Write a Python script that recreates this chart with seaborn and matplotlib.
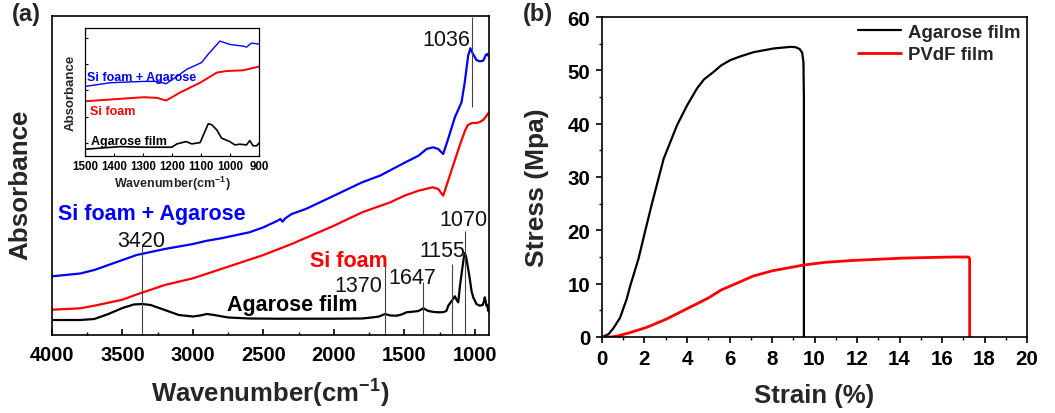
import numpy as np
import pandas as pd
import matplotlib
matplotlib.use("Agg")
import matplotlib.pyplot as plt
from matplotlib.ticker import MultipleLocator
import seaborn as sns

# ---------------- Panel (a): FTIR spectra (arbitrary absorbance units) ----------------
wn_blue = [4000, 3800, 3700, 3600, 3500, 3400, 3200, 3000, 2900, 2800, 2600, 2500, 2400, 2380,
           2365, 2345, 2300, 2200, 2000, 1900, 1800, 1674, 1485, 1400, 1343, 1296, 1260, 1225,
           1190, 1142, 1095, 1072, 1048, 1032, 1013, 989, 965, 941, 922, 913, 901]
abs_blue = [58.7, 61.5, 65, 70, 75, 80, 86, 91, 94.3, 96.7, 102.7, 107.7, 114.3, 116,
            113.3, 116.7, 121, 126, 139.3, 146, 152.7, 159.3, 173.3, 179.3, 186, 187.7, 186, 181,
            196, 217.7, 232.7, 252.7, 279.3, 286.7, 281, 275, 273.7, 274.3, 280, 281, 278.7]

wn_red = [4000, 3800, 3700, 3500, 3400, 3200, 3000, 2800, 2500, 2300, 2000, 1800, 1600, 1500,
          1400, 1300, 1260, 1225, 1190, 1155, 1100, 1070, 1050, 1020, 989, 960, 940, 920, 901]
abs_red = [25.3, 26.7, 29.3, 35.3, 40.5, 50, 56.7, 66, 80, 91, 109.3, 122.7, 132.7, 139.3,
           144.3, 147.7, 146, 139.3, 154.3, 169.3, 192.7, 204.3, 210, 212, 212, 213.3, 215.3, 218.7, 222.7]

wn_black = [4000, 3800, 3700, 3600, 3500, 3420, 3360, 3300, 3200, 3100, 3000, 2950, 2900, 2850,
            2750, 2600, 2400, 2200, 2000, 1800, 1721, 1680, 1638, 1600, 1556, 1520, 1485, 1430,
            1400, 1366, 1330, 1290, 1248, 1220, 1201, 1189, 1160, 1142, 1125, 1118, 1106, 1087,
            1078, 1071, 1062, 1050, 1036, 1024, 1012, 989, 965, 945, 935, 930, 924, 918, 912, 906, 900]
abs_black = [15, 15, 16, 21, 27, 30.5, 31, 30, 25, 20, 18.5, 19.5, 21, 20,
             17.5, 16.5, 16.3, 16.3, 16.3, 16.5, 17.7, 18.5, 21, 19.5, 19.3, 20.5, 22.7, 23.5,
             24, 26.7, 24, 23, 22.7, 23, 24.3, 29.3, 35, 38.7, 34, 32.7, 49, 69,
             78, 82, 78, 68, 56, 44, 37.7, 31, 29.3, 30, 34, 37.7, 34, 29.3, 30, 24.3, 23]

# annotation lines: position (cm-1), bottom, top, label text
peak_pos = [3360, 1635, 1368, 1160, 1068, 1024]
peak_bottom = [0, 0, 0, 0, 0, 228]
peak_top = [91, 74, 53, 71, 104, 318]
peak_text = ["3420", "1370", "1647", "1155", "1070", "1036"]

# ---------------- Inset: 1500-900 cm-1 ----------------
in_wn_blue = [1500, 1412, 1298, 1252, 1220, 1183, 1149, 1098, 1075, 1035, 1001, 955, 943, 926, 900]
in_abs_blue = [69, 72.7, 74, 74, 71.7, 79, 86, 92.7, 101, 114, 110.7, 109, 108, 112, 111]
in_wn_red = [1500, 1298, 1252, 1220, 1172, 1103, 1046, 1012, 955, 900]
in_abs_red = [54.3, 58.3, 57.7, 55, 63, 72.7, 82.7, 84.3, 85, 88.7]
in_wn_black = [1500, 1378, 1298, 1201, 1183, 1151, 1132, 1103, 1075, 1063, 1046, 1029, 1001, 983,
               966, 943, 932, 921, 909, 900]
in_abs_black = [6.7, 9.3, 8.7, 8.7, 12, 14.3, 12, 13.3, 32, 31, 26, 17.7, 14.3, 11,
                11.7, 11, 15.3, 10.3, 10, 12.7]

# ---------------- Panel (b): stress-strain ----------------
agar_strain = [0, 0.3, 0.53, 0.85, 1.16, 1.33, 1.72, 2.04, 2.35, 2.9, 3.53, 4.0, 4.47, 4.8,
               5.25, 5.6, 6.03, 6.5, 7.13, 8.07, 8.86, 9.1, 9.3, 9.42, 9.48, 9.5, 9.5]
agar_stress = [0, 0.5, 1.6, 3.6, 7.1, 9.6, 14.7, 20, 25, 33.4, 39.7, 43.4, 46.6, 48.3,
               49.7, 50.9, 51.9, 52.6, 53.4, 54.1, 54.4, 54.35, 54.0, 53.3, 51.5, 45, 0]
pvdf_strain = [0, 0.4, 0.7, 1.3, 2.1, 3.0, 4.0, 5.0, 5.6, 6.3, 7.1, 8.0, 9.5, 10.5, 11.8,
               14.2, 16.5, 17.25, 17.3, 17.3]
pvdf_stress = [0, 0, 0.15, 0.8, 1.8, 3.3, 5.3, 7.3, 8.8, 10.0, 11.4, 12.4, 13.5, 14.0, 14.35,
               14.8, 15.0, 15.0, 14.7, 0]

# ---------------- style ----------------
sns.set_theme(style="ticks")
plt.rcParams["font.family"] = ["Liberation Sans", "DejaVu Sans"]
plt.rcParams["font.weight"] = "bold"
plt.rcParams["axes.labelweight"] = "bold"
plt.rcParams["mathtext.fontset"] = "custom"
plt.rcParams["mathtext.rm"] = "Liberation Sans:bold"
plt.rcParams["mathtext.bf"] = "Liberation Sans:bold"
plt.rcParams["axes.linewidth"] = 1.2
plt.rcParams["axes.edgecolor"] = "black"
plt.rcParams["xtick.color"] = "black"
plt.rcParams["ytick.color"] = "black"

BLUE = "#0000FF"
RED = "#FF0000"

fig = plt.figure(figsize=(10.55, 4.14), dpi=100)
axA = fig.add_axes([0.0493, 0.1884, 0.4142, 0.7705])
axB = fig.add_axes([0.5706, 0.1836, 0.4029, 0.7729])
axI = fig.add_axes([0.0806, 0.6208, 0.1649, 0.3092])

# ---- panel (a)
sns.lineplot(x=np.array(wn_blue), y=np.array(abs_blue), ax=axA, color=BLUE, lw=1.6,
             estimator=None, sort=False)
sns.lineplot(x=np.array(wn_red), y=np.array(abs_red), ax=axA, color=RED, lw=1.6,
             estimator=None, sort=False)
sns.lineplot(x=np.array(wn_black), y=np.array(abs_black), ax=axA, color="black", lw=1.6,
             estimator=None, sort=False)
axA.vlines(peak_pos, peak_bottom, peak_top, colors="#444444", lw=0.8)

label_xy = [(3369, 89), (1825, 44), (1442, 52), (1232, 79), (1078, 110), (1206, 290)]
for (lx, ly), t in zip(label_xy, peak_text):
    axA.text(lx, ly, t, ha="center", va="baseline", fontsize=15.5, fontweight="normal",
             color="#111111")

axA.text(3957, 116, "Si foam + Agarose", color=BLUE, fontsize=15.5, fontweight="bold",
         va="baseline", ha="left")
axA.text(2170, 69, "Si foam", color=RED, fontsize=15.5, fontweight="bold",
         va="baseline", ha="left")
axA.text(2760, 25, "Agarose film", color="black", fontsize=15.5, fontweight="bold",
         va="baseline", ha="left")

axA.set_xlim(4000, 900)
axA.set_ylim(0, 319)
axA.set_xticks([4000, 3500, 3000, 2500, 2000, 1500, 1000])
axA.xaxis.set_minor_locator(MultipleLocator(250))
axA.set_yticks([])
axA.tick_params(axis="x", which="major", direction="in", length=4.5, width=1.2,
                labelsize=14.5, pad=7)
axA.tick_params(axis="x", which="minor", direction="in", length=2.5, width=1.0)
axA.set_xlabel(r"Wavenumber(cm$^{\mathbf{-1}}$)", fontsize=18.5, fontweight="bold")
axA.set_ylabel("Absorbance", fontsize=18.7, fontweight="bold")
axA.xaxis.set_label_coords(0.5, -0.125)
axA.yaxis.set_label_coords(-0.045, 0.473)

# ---- inset
sns.lineplot(x=np.array(in_wn_blue), y=np.array(in_abs_blue), ax=axI, color=BLUE, lw=1.0,
             estimator=None, sort=False)
sns.lineplot(x=np.array(in_wn_red), y=np.array(in_abs_red), ax=axI, color=RED, lw=1.4,
             estimator=None, sort=False)
sns.lineplot(x=np.array(in_wn_black), y=np.array(in_abs_black), ax=axI, color="black", lw=1.2,
             estimator=None, sort=False)
axI.text(1494, 75, "Si foam + Agarose", color=BLUE, fontsize=9, fontweight="bold", va="baseline")
axI.text(1483, 41.7, "Si foam", color=RED, fontsize=9, fontweight="bold", va="baseline")
axI.text(1481, 12, "Agarose film", color="black", fontsize=9, fontweight="bold", va="baseline")
axI.set_xlim(1500, 900)
axI.set_ylim(0, 127)
axI.set_xticks([1500, 1400, 1300, 1200, 1100, 1000, 900])
axI.set_yticks([13, 39, 65, 91, 117])
axI.set_yticklabels([])
axI.tick_params(axis="both", which="major", direction="in", length=2.5, width=0.8,
                labelsize=8.3, pad=3)
for sp in axI.spines.values():
    sp.set_linewidth(0.9)
axI.set_xlabel(r"Wavenumber(cm$^{\mathbf{-1}}$)", fontsize=9, fontweight="bold", labelpad=1)
axI.set_ylabel("Absorbance", fontsize=9.5, fontweight="bold", labelpad=3)

# ---- panel (b)
sns.lineplot(x=np.array(agar_strain), y=np.array(agar_stress), ax=axB, color="black", lw=1.6,
             estimator=None, sort=False, label="Agarose film")
sns.lineplot(x=np.array(pvdf_strain), y=np.array(pvdf_stress), ax=axB, color=RED, lw=2.0,
             estimator=None, sort=False, label="PVdF film")
axB.set_xlim(0, 20)
axB.set_ylim(0, 60)
axB.set_xticks(np.arange(0, 21, 2))
axB.set_yticks(np.arange(0, 61, 10))
axB.xaxis.set_minor_locator(MultipleLocator(1))
axB.yaxis.set_minor_locator(MultipleLocator(5))
axB.tick_params(axis="both", which="major", direction="out", length=4.5, width=1.2,
                labelsize=14.8, pad=4)
axB.tick_params(axis="both", which="minor", direction="out", length=2.5, width=1.0)
axB.set_xlabel("Strain (%)", fontsize=18.5, fontweight="bold")
axB.set_ylabel("Stress (Mpa)", fontsize=19, fontweight="bold")
axB.xaxis.set_label_coords(0.5, -0.145)
axB.yaxis.set_label_coords(-0.125, 0.47)
axB.legend(loc="upper right", bbox_to_anchor=(1.0, 1.0), frameon=False,
           prop={"weight": "bold", "size": 13.4}, handlelength=2.3, handletextpad=0.4,
           borderaxespad=0.15, borderpad=0.2, labelspacing=0.3)

for ax in (axA, axB, axI):
    for lbl in ax.get_xticklabels() + ax.get_yticklabels():
        lbl.set_fontweight("bold")

fig.text(0.0114, 0.992, "(a)", fontsize=17, fontweight="bold", va="top", ha="left")
fig.text(0.4957, 0.992, "(b)", fontsize=17, fontweight="bold", va="top", ha="left")

fig.savefig("out.png", dpi=100)
